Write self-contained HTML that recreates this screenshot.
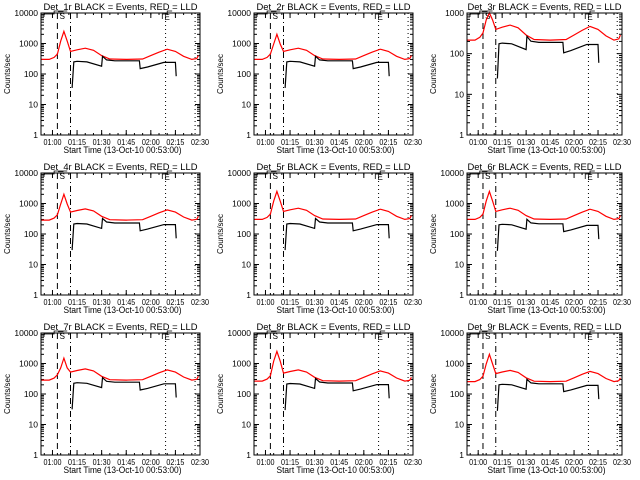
<!DOCTYPE html>
<html><head><meta charset="utf-8"><style>
body{margin:0;background:#fff;}
svg{display:block;font-family:"Liberation Sans",sans-serif;}
</style></head><body>
<svg id="c" width="640" height="480" viewBox="0 0 640 480"></svg>
<script>
// shared time axis: minutes after 00:53
const redTimes=[0,5,8,10,12,14,16,18,22,27,32,37,42,52,62,67,72,77,82,87,92,95,96];
const redBase=[300,300,350,450,1200,2500,1200,550,620,700,600,400,310,300,310,400,520,650,550,380,300,320,400];
const blackTimes=[19,20,22,28,37,37.5,40,45,60,60.5,65,75,82,82.5];
const blackBase=[35,250,260,250,180,380,290,270,270,150,170,240,240,85];
const panelNames=["Det_1r","Det_2r","Det_3r","Det_4r","Det_5r","Det_6r","Det_7r","Det_8r","Det_9r"];
const redScale=[1,1,0.72,0.95,1,1,0.95,0.88,0.85];
const peakValues=[2500,2000,1400,2000,2500,2500,1500,2500,2000];
const blackScale=[1,1,0.7,0.85,0.85,0.8,0.9,0.85,0.8];
const yTopValues=[10000,10000,1000,10000,10000,10000,10000,10000,10000];
const tickLabels=["01:00","01:15","01:30","01:45","02:00","02:15","02:30"];
const tickMinutes=[7,22,37,52,67,82,97];
const markerMinutes=[10,18,76,94];

const svg=document.getElementById('c');
const NS="http://www.w3.org/2000/svg";
function mk(tag,attrs,parent){const e=document.createElementNS(NS,tag);for(const k in attrs)e.setAttribute(k,attrs[k]);(parent||svg).appendChild(e);return e;}

for(let p=0;p<9;p++){
  const col=p%3,row=Math.floor(p/3);
  const L=[41,254,467][col],R=[200,413,622][col];
  const T=13+row*160,B=135+row*160;
  const yTop=yTopValues[p];
  const dec=Math.log10(yTop);
  const g=mk('g',{});
  
  
  const xs=m=>L+(R-L)*m/97;
  const ys=v=>B-(B-T)*Math.log10(Math.max(1,Math.min(v,yTop*1.2)))/dec;
  const t=mk('text',{x:(L+R)/2,y:T-3,'font-size':9.5,'text-anchor':'middle',textLength:154,lengthAdjust:'spacingAndGlyphs'},g);
  t.textContent=panelNames[p]+" BLACK = Events, RED = LLD";
  
  
  const yl=mk('text',{x:0,y:0,'font-size':8,'text-anchor':'middle',transform:`translate(${L-31},${(T+B)/2}) rotate(-90)`},g);
  yl.textContent="Counts/sec";
  
  
  const xl=mk('text',{x:(L+R)/2+2,y:B+18,'font-size':9,'text-anchor':'middle',textLength:118,lengthAdjust:'spacingAndGlyphs'},g);
  xl.textContent="Start Time (13-Oct-10 00:53:00)";
  
  
  for(let d=0;d<=dec;d++){
    const y=ys(Math.pow(10,d));
    mk('line',{x1:L,x2:L+5,y1:y,y2:y,stroke:'#000'},g);
    mk('line',{x1:R,x2:R-5,y1:y,y2:y,stroke:'#000'},g);
    const tl=mk('text',{x:L-3,y:y+3,'font-size':8.5,'text-anchor':'end'},g);
    tl.textContent=String(Math.pow(10,d));
    
    
    if(d<dec)for(let k=2;k<10;k++){const yy=ys(k*Math.pow(10,d));
      mk('line',{x1:L,x2:L+3,y1:yy,y2:yy,stroke:'#000'},g);
      mk('line',{x1:R,x2:R-3,y1:yy,y2:yy,stroke:'#000'},g);}
  }
  tickMinutes.forEach((m,i)=>{
    const x=xs(m);
    mk('line',{x1:x,x2:x,y1:B,y2:B-5,stroke:'#000'},g);
    mk('line',{x1:x,x2:x,y1:T,y2:T+5,stroke:'#000'},g);
    const tl=mk('text',{x:x,y:B+10,'font-size':8,'text-anchor':'middle',textLength:18,lengthAdjust:'spacingAndGlyphs'},g);
    tl.textContent=tickLabels[i];
    
    
  });
  for(let m=2;m<97;m+=5){const x=xs(m);
    mk('line',{x1:x,x2:x,y1:B,y2:B-2,stroke:'#000'},g);
    mk('line',{x1:x,x2:x,y1:T,y2:T+2,stroke:'#000'},g);}
  const dashes=['6,4','6,3,1,3','1,3','1,3'];
  markerMinutes.forEach((m,i)=>{const x=xs(m);
    const ln=mk('line',{x1:x,x2:x,y1:T,y2:B,stroke:'#000','stroke-dasharray':dashes[i]},g);
    
    
  });
  mk('path',{d:`M${L+3} ${T+4} V${T+1} H${xs(8)} V${T-2} H${xs(16)}`,fill:'none',stroke:'#000','stroke-width':0.8},g);
  const s=mk('text',{x:xs(13),y:T+6,'font-size':8,'text-anchor':'middle'},g);s.textContent="S";
  
  mk('path',{d:`M${xs(74)} ${T+6} V${T+1} H${xs(77)} V${T-2} H${xs(80)}`,fill:'none',stroke:'#000','stroke-width':0.8},g);
  const e=mk('text',{x:xs(77),y:T+7,'font-size':8,'text-anchor':'middle'},g);e.textContent="E";
  
  let d='';
  redTimes.forEach((m,i)=>{let v=redBase[i]*redScale[p];
    if(i>=4&&i<=6)v=redBase[i]/2500*peakValues[p];
    v=Math.min(v,yTop);
    d+=(i?'L':'M')+xs(m).toFixed(1)+' '+ys(v).toFixed(1);});
  const rp=mk('path',{d:d,fill:'none',stroke:'#f00','stroke-width':1.2},g);
  
  d='';
  blackTimes.forEach((m,i)=>{const v=blackBase[i]*blackScale[p];
    d+=(i?'L':'M')+xs(m).toFixed(1)+' '+ys(v).toFixed(1);});
  const bp=mk('path',{d:d,fill:'none',stroke:'#000','stroke-width':1.2},g);
  
  const bx=mk('rect',{x:L,y:T,width:R-L,height:B-T,fill:'none',stroke:'#000'},g);
  
}
</script>
</body></html>
